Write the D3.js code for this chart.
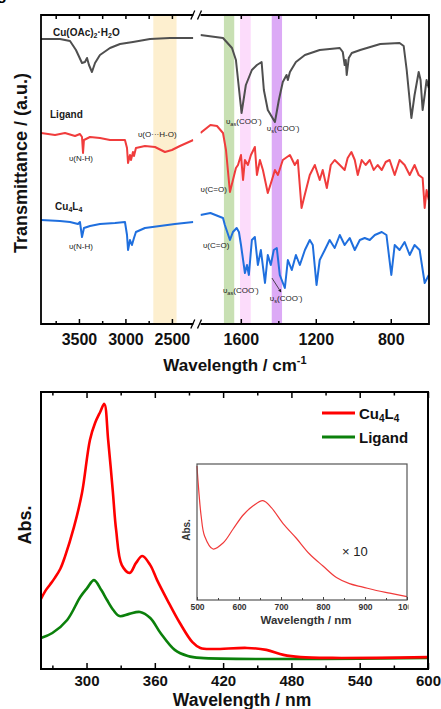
<!DOCTYPE html>
<meta charset="utf-8">
<style>* {padding:0; margin:0; border:0; outline:0;} body {background:#fff;} svg {display:block; font-family:"Liberation Sans", Arial, sans-serif;}</style>
<body>
<script src="https://d3js.org/d3.v7.min.js"></script>
<script>
// ---------- FTIR data: [wavenumber cm-1, transmittance a.u. (offset)] ----------
var grayLeft = [[3908,285],[3704,285],[3596,283],[3532,274],[3467,261],[3435,262],[3413,266],[3392,259],[3360,252],[3327,261],[3274,269],[3166,276],[3058,280],[2919,282],[2736,285],[2521,286],[2270,286]];
var grayRight = [[1815,289],[1695,286],[1647,276],[1626,264],[1596,211],[1573,239],[1541,254],[1514,259],[1489,262],[1477,234],[1456,214],[1418,202],[1397,224],[1376,242],[1356,249],[1349,244],[1338,252],[1306,262],[1258,269],[1179,274],[1072,276],[1056,272],[1046,259],[1040,264],[1035,249],[1024,266],[1008,271],[963,274],[856,280],[753,281],[731,278],[715,254],[690,206],[673,229],[651,252],[641,244],[630,214],[619,229],[609,244],[597,236]];
var redLeft = [[3908,191],[3757,189],[3650,191],[3542,188],[3489,190],[3467,187],[3456,171],[3446,184],[3381,187],[3274,186],[3166,184],[3005,184],[2983,176],[2972,161],[2951,169],[2940,164],[2919,172],[2908,168],[2887,176],[2790,178],[2682,177],[2575,172],[2500,174],[2414,178],[2270,184]];
var redRight = [[1815,191],[1762,199],[1727,198],[1695,191],[1679,174],[1658,132],[1642,144],[1626,156],[1615,159],[1599,169],[1588,144],[1578,164],[1562,159],[1546,169],[1525,177],[1514,149],[1498,164],[1482,154],[1456,131],[1434,144],[1418,154],[1402,149],[1376,164],[1338,169],[1312,159],[1296,164],[1276,116],[1259,129],[1232,149],[1205,159],[1179,144],[1163,154],[1141,136],[1120,159],[1099,164],[1072,159],[1046,154],[1030,166],[1010,172],[992,164],[976,149],[955,164],[934,159],[912,164],[891,154],[870,159],[848,154],[827,162],[806,164],[779,149],[753,164],[726,159],[699,149],[673,159],[651,149],[630,146],[619,116],[609,134],[597,124]];
var blueLeft = [[3908,104],[3704,103],[3596,102],[3510,100],[3489,102],[3467,87],[3446,96],[3381,98],[3274,100],[3112,101],[3005,102],[2983,89],[2972,74],[2951,84],[2930,79],[2908,86],[2887,92],[2790,96],[2629,98],[2468,100],[2270,102]];
var blueRight = [[1815,109],[1762,111],[1722,108],[1695,106],[1685,99],[1658,84],[1642,92],[1622,96],[1610,92],[1599,79],[1578,51],[1567,59],[1557,49],[1541,84],[1525,87],[1509,59],[1493,74],[1471,41],[1456,69],[1440,59],[1424,74],[1408,76],[1392,49],[1365,36],[1349,64],[1328,54],[1306,69],[1285,59],[1258,74],[1232,84],[1216,79],[1196,39],[1179,64],[1152,74],[1126,84],[1099,76],[1072,89],[1046,79],[1019,86],[992,74],[965,84],[939,86],[912,84],[885,89],[848,92],[823,89],[797,49],[779,79],[753,74],[726,82],[699,69],[673,79],[646,74],[619,41],[597,49]];

var bandRanges = [[2450,2700],[1635,1690],[1547,1604],[1380,1435]];
var bandColors = ["#fdefcf","#c8e0b3","#fcdcfb","#dcaaf6"];

var irMajorLeft = [3500,3000,2500], irMinorLeft = [3750,3250,2750];
var irMajorRight = [1600,1200,800], irMinorRight = [1400,1000];

// ---------- UV-vis data: [wavelength nm, absorbance a.u.] ----------
var cuUV = [[260,0.253],[264,0.283],[268,0.305],[272,0.328],[277,0.362],[281,0.405],[289,0.513],[296,0.635],[303,0.827],[307.5,0.888],[312,0.928],[315.6,0.957],[319,0.827],[323,0.646],[326,0.502],[331,0.375],[338,0.347],[343.5,0.383],[349,0.408],[356,0.375],[362,0.321],[371,0.249],[382,0.166],[393,0.097],[400,0.076],[411,0.072],[441,0.076],[458,0.069],[473,0.051],[488,0.043],[516,0.040],[600,0.043]];
var ligandUV = [[260,0.112],[270,0.130],[283,0.177],[294.5,0.260],[300.5,0.292],[306.6,0.321],[313,0.285],[318,0.249],[323.5,0.213],[329,0.191],[337.5,0.199],[347,0.206],[356,0.184],[365,0.130],[377.5,0.069],[389,0.047],[400,0.040],[600,0.040]];
var insetUV = [[500,0.985],[502.4,0.875],[510,0.614],[518,0.471],[538,0.375],[562,0.419],[586,0.522],[610,0.625],[633,0.691],[657,0.731],[677,0.679],[705,0.562],[736,0.456],[768,0.338],[800,0.250],[832,0.165],[863,0.120],[895,0.095],[927,0.070],[959,0.050],[1000,0.025]];

var uvMajor = [300,360,420,480,540,600], uvMinor = [270,330,390,450,510,570];
var inMajor = [500,600,700,800,900,1000], inMinor = [550,650,750,850,950];

var W = 441, H = 709;
var svg = d3.select("body").append("svg").attr("width", W).attr("height", H);

// cut-off panel letter at the very top-left
svg.append("text").attr("x", -3).attr("y", 0).attr("font-size", 16).attr("font-weight", "bold").text("g");

// ================= FTIR panel =================
var irTop = 15, irBottom = 324, irLeft = 41, irRight = 429, brkL = 193.3, brkR = 200.5;
var xL = d3.scaleLinear().domain([3908, 2270]).range([irLeft, brkL]);
var xR = d3.scaleLinear().domain([1815, 596]).range([brkR, irRight]);
var yT = d3.scaleLinear().domain([0, 309]).range([irBottom, irTop]);

var defs = svg.append("defs");
defs.append("clipPath").attr("id", "clipL").append("rect")
  .attr("x", irLeft).attr("y", irTop).attr("width", brkL - irLeft).attr("height", irBottom - irTop);
defs.append("clipPath").attr("id", "clipR").append("rect")
  .attr("x", brkR).attr("y", irTop).attr("width", irRight - brkR).attr("height", irBottom - irTop);

bandRanges.forEach(function(b, i){
  var sc = b[0] > 2000 ? xL : xR;
  var x0 = sc(b[1]), x1 = sc(b[0]);
  svg.append("rect").attr("x", x0).attr("y", irTop).attr("width", x1 - x0).attr("height", irBottom - irTop)
    .attr("fill", bandColors[i]);
});

var lineL = d3.line().x(function(d){return xL(d[0]);}).y(function(d){return yT(d[1]);});
var lineR = d3.line().x(function(d){return xR(d[0]);}).y(function(d){return yT(d[1]);});

[[grayLeft, grayRight, "#4f4f4f"], [redLeft, redRight, "#f03c3c"], [blueLeft, blueRight, "#1f6fde"]].forEach(function(s){
  svg.append("path").attr("d", lineL(s[0])).attr("clip-path", "url(#clipL)")
    .attr("fill", "none").attr("stroke", s[2]).attr("stroke-width", 2).attr("stroke-linejoin", "round");
  svg.append("path").attr("d", lineR(s[1])).attr("clip-path", "url(#clipR)")
    .attr("fill", "none").attr("stroke", s[2]).attr("stroke-width", 2).attr("stroke-linejoin", "round");
});

// frame with axis break
var frame = svg.append("g").attr("stroke", "#000").attr("stroke-width", 1.8).attr("fill", "none");
frame.append("path").attr("d", "M" + brkL + "," + irTop + "H" + irLeft + "V" + irBottom + "H" + brkL);
frame.append("path").attr("d", "M" + brkR + "," + irTop + "H" + irRight + "V" + irBottom + "H" + brkR);
[irTop, irBottom].forEach(function(yy){
  frame.append("line").attr("x1", brkL - 2.5).attr("y1", yy + 4.5).attr("x2", brkL + 1.5).attr("y2", yy - 4.5).attr("stroke-width", 1.3);
  frame.append("line").attr("x1", brkR - 3).attr("y1", yy + 4.5).attr("x2", brkR + 1).attr("y2", yy - 4.5).attr("stroke-width", 1.3);
});

function styleAxis(g, size) {
  g.select(".domain").remove();
  g.selectAll(".tick line").attr("stroke", "#000").attr("stroke-width", 1.5);
  g.selectAll("text").attr("fill", "#111").attr("font-size", size).attr("font-weight", "bold")
    .attr("font-family", "'Liberation Sans', Arial, sans-serif");
}

function irAxes(sc, major, minor) {
  svg.append("g").attr("transform", "translate(0," + irBottom + ")")
    .call(d3.axisBottom(sc).tickValues(major).tickSize(-5).tickPadding(10).tickFormat(d3.format("d")))
    .call(styleAxis, 16);
  svg.append("g").attr("transform", "translate(0," + irBottom + ")")
    .call(d3.axisBottom(sc).tickValues(minor).tickSize(-3).tickFormat(""))
    .call(styleAxis, 16);
  svg.append("g").attr("transform", "translate(0," + irTop + ")")
    .call(d3.axisTop(sc).tickValues(major.concat(minor)).tickSize(-4).tickFormat(""))
    .call(styleAxis, 16);
}
irAxes(xL, irMajorLeft, irMinorLeft);
irAxes(xR, irMajorRight, irMinorRight);

var xt = svg.append("text").attr("x", 235).attr("y", 371).attr("text-anchor", "middle")
  .attr("font-size", 17).attr("font-weight", "bold").attr("fill", "#111");
xt.append("tspan").text("Wavelength / cm");
xt.append("tspan").attr("font-size", 11).attr("dy", -7).text("-1");

svg.append("text").attr("transform", "translate(27,163) rotate(-90)").attr("text-anchor", "middle")
  .attr("font-size", 18).attr("font-weight", "bold").attr("fill", "#111").text("Transmittance / (a.u.)");

// annotations: parts are [text, kind]
var irNotes = [
  {sc: xL, wn: 3779, v: 288, size: 10, bold: true, parts: [["Cu(OAc)"],["2","sub"],["·H"],["2","sub"],["O"]]},
  {sc: xL, wn: 3811, v: 206, size: 10, bold: true, parts: [["Ligand"]]},
  {sc: xL, wn: 2865, v: 187, size: 8, parts: [["υ(O···H-O)"]]},
  {sc: xL, wn: 3607, v: 163, size: 8, parts: [["υ(N-H)"]]},
  {sc: xL, wn: 3757, v: 114, size: 10, bold: true, parts: [["Cu"],["4","sub"],["L"],["4","sub"]]},
  {sc: xL, wn: 3607, v: 75, size: 8, parts: [["υ(N-H)"]]},
  {sc: xR, wn: 1815, v: 132, size: 8, parts: [["υ(C=O)"]]},
  {sc: xR, wn: 1802, v: 76, size: 8, parts: [["υ(C=O)"]]},
  {sc: xR, wn: 1679, v: 200, size: 8, parts: [["υ"],["as","sub"],["(COO"],["-","sup"],[")"]]},
  {sc: xR, wn: 1461, v: 193, size: 8, parts: [["υ"],["s","sub"],["(COO"],["-","sup"],[")"]]},
  {sc: xR, wn: 1695, v: 31, size: 8, parts: [["υ"],["as","sub"],["(COO"],["-","sup"],[")"]]},
  {sc: xR, wn: 1445, v: 23, size: 8, parts: [["υ"],["s","sub"],["(COO"],["-","sup"],[")"]]}
];
irNotes.forEach(function(n){
  var t = svg.append("text").attr("x", n.sc(n.wn)).attr("y", yT(n.v))
    .attr("font-size", n.size).attr("font-weight", n.bold ? "bold" : "normal").attr("fill", "#1a1a1a");
  n.parts.forEach(function(p){
    var ts = t.append("tspan").text(p[0]);
    if (p[1] == "sub") ts.attr("font-size", n.size * 0.7).attr("baseline-shift", "-25%");
    if (p[1] == "sup") ts.attr("font-size", n.size * 0.7).attr("baseline-shift", "45%");
  });
});
defs.append("marker").attr("id", "arr").attr("viewBox", "0 0 6 6").attr("refX", 5).attr("refY", 3)
  .attr("markerWidth", 4).attr("markerHeight", 4).attr("orient", "auto")
  .append("path").attr("d", "M0,0L6,3L0,6Z").attr("fill", "#222");
svg.append("line").attr("x1", xR(1434)).attr("y1", yT(46)).attr("x2", xR(1386)).attr("y2", yT(32))
  .attr("stroke", "#222").attr("stroke-width", 0.8).attr("marker-end", "url(#arr)");

// ================= UV-vis panel =================
var uvTop = 392, uvBottom = 669, uvLeft = 41, uvRight = 428;
var xU = d3.scaleLinear().domain([260, 600]).range([uvLeft, uvRight]);
var yU = d3.scaleLinear().domain([0, 1]).range([uvBottom, uvTop]);
var lineU = d3.line().curve(d3.curveCatmullRom.alpha(0.5))
  .x(function(d){return xU(d[0]);}).y(function(d){return yU(d[1]);});

svg.append("path").attr("d", lineU(ligandUV)).attr("fill", "none").attr("stroke", "#0b800b").attr("stroke-width", 2.6);
svg.append("path").attr("d", lineU(cuUV)).attr("fill", "none").attr("stroke", "#ff0000").attr("stroke-width", 2.6);

svg.append("rect").attr("x", uvLeft).attr("y", uvTop).attr("width", uvRight - uvLeft).attr("height", uvBottom - uvTop)
  .attr("fill", "none").attr("stroke", "#000").attr("stroke-width", 2);

svg.append("g").attr("transform", "translate(0," + uvBottom + ")")
  .call(d3.axisBottom(xU).tickValues(uvMajor).tickSize(-6).tickPadding(6).tickFormat(d3.format("d")))
  .call(styleAxis, 15);
svg.append("g").attr("transform", "translate(0," + uvBottom + ")")
  .call(d3.axisBottom(xU).tickValues(uvMinor).tickSize(-3.5).tickFormat(""))
  .call(styleAxis, 15);
svg.append("g").attr("transform", "translate(0," + uvTop + ")")
  .call(d3.axisTop(xU).tickValues(uvMajor).tickSize(-6).tickFormat(""))
  .call(styleAxis, 15);
svg.append("g").attr("transform", "translate(0," + uvTop + ")")
  .call(d3.axisTop(xU).tickValues(uvMinor).tickSize(-3.5).tickFormat(""))
  .call(styleAxis, 15);

svg.append("text").attr("x", 242).attr("y", 706).attr("text-anchor", "middle")
  .attr("font-size", 17.5).attr("font-weight", "bold").attr("fill", "#111").text("Wavelength / nm");
svg.append("text").attr("transform", "translate(31,525) rotate(-90)").attr("text-anchor", "middle")
  .attr("font-size", 18).attr("font-weight", "bold").attr("fill", "#111").text("Abs.");

// legend
var legend = [["#ff0000", "Cu", "L"], ["#0b800b", "Ligand"]];
legend.forEach(function(l, i){
  var yy = 413 + i * 24;
  svg.append("line").attr("x1", 322).attr("x2", 355).attr("y1", yy).attr("y2", yy).attr("stroke", l[0]).attr("stroke-width", 3);
  var t = svg.append("text").attr("x", 359).attr("y", yy + 5.5).attr("font-size", 15).attr("font-weight", "bold").attr("fill", "#111");
  if (l.length == 3) {
    t.append("tspan").text("Cu");
    t.append("tspan").attr("font-size", 10).attr("baseline-shift", "-25%").text("4");
    t.append("tspan").text("L");
    t.append("tspan").attr("font-size", 10).attr("baseline-shift", "-25%").text("4");
  } else t.text(l[1]);
});

// inset
var inL = 197, inR = 407, inT = 464, inB = 600;
var xI = d3.scaleLinear().domain([500, 1000]).range([inL, inR]);
var yI = d3.scaleLinear().domain([0, 1]).range([inB, inT]);
svg.append("rect").attr("x", inL).attr("y", inT).attr("width", inR - inL).attr("height", inB - inT).attr("fill", "#fff");
svg.append("path").attr("d", d3.line().curve(d3.curveCatmullRom.alpha(0.5))
    .x(function(d){return xI(d[0]);}).y(function(d){return yI(d[1]);})(insetUV))
  .attr("fill", "none").attr("stroke", "#f03a3a").attr("stroke-width", 1.2);
svg.append("rect").attr("x", inL).attr("y", inT).attr("width", inR - inL).attr("height", inB - inT)
  .attr("fill", "none").attr("stroke", "#555").attr("stroke-width", 1.2);

// clip rect is in the axis group's own (translated) space
defs.append("clipPath").attr("id", "clipI").append("rect").attr("x", 150).attr("y", -10).attr("width", inR + 1.5 - 150).attr("height", 40);
var ia = svg.append("g").attr("transform", "translate(0," + inB + ")")
  .call(d3.axisBottom(xI).tickValues(inMajor).tickSize(-3).tickPadding(4).tickFormat(d3.format("d")))
  .call(styleAxis, 8.5);
ia.attr("clip-path", "url(#clipI)");
ia.selectAll(".tick line").attr("stroke", "#444").attr("stroke-width", 1);
ia.selectAll("text").attr("fill", "#333");
var ib = svg.append("g").attr("transform", "translate(0," + inB + ")")
  .call(d3.axisBottom(xI).tickValues(inMinor).tickSize(-2).tickFormat(""))
  .call(styleAxis, 8.5);
ib.selectAll(".tick line").attr("stroke", "#444").attr("stroke-width", 1);

svg.append("text").attr("x", 306).attr("y", 624).attr("text-anchor", "middle")
  .attr("font-size", 11.5).attr("font-weight", "bold").attr("fill", "#333").text("Wavelength / nm");
svg.append("text").attr("transform", "translate(190,530) rotate(-90)").attr("text-anchor", "middle")
  .attr("font-size", 10).attr("font-weight", "bold").attr("fill", "#333").text("Abs.");
svg.append("text").attr("x", 342).attr("y", 556).attr("font-size", 13).attr("fill", "#222").text("× 10");
</script>
